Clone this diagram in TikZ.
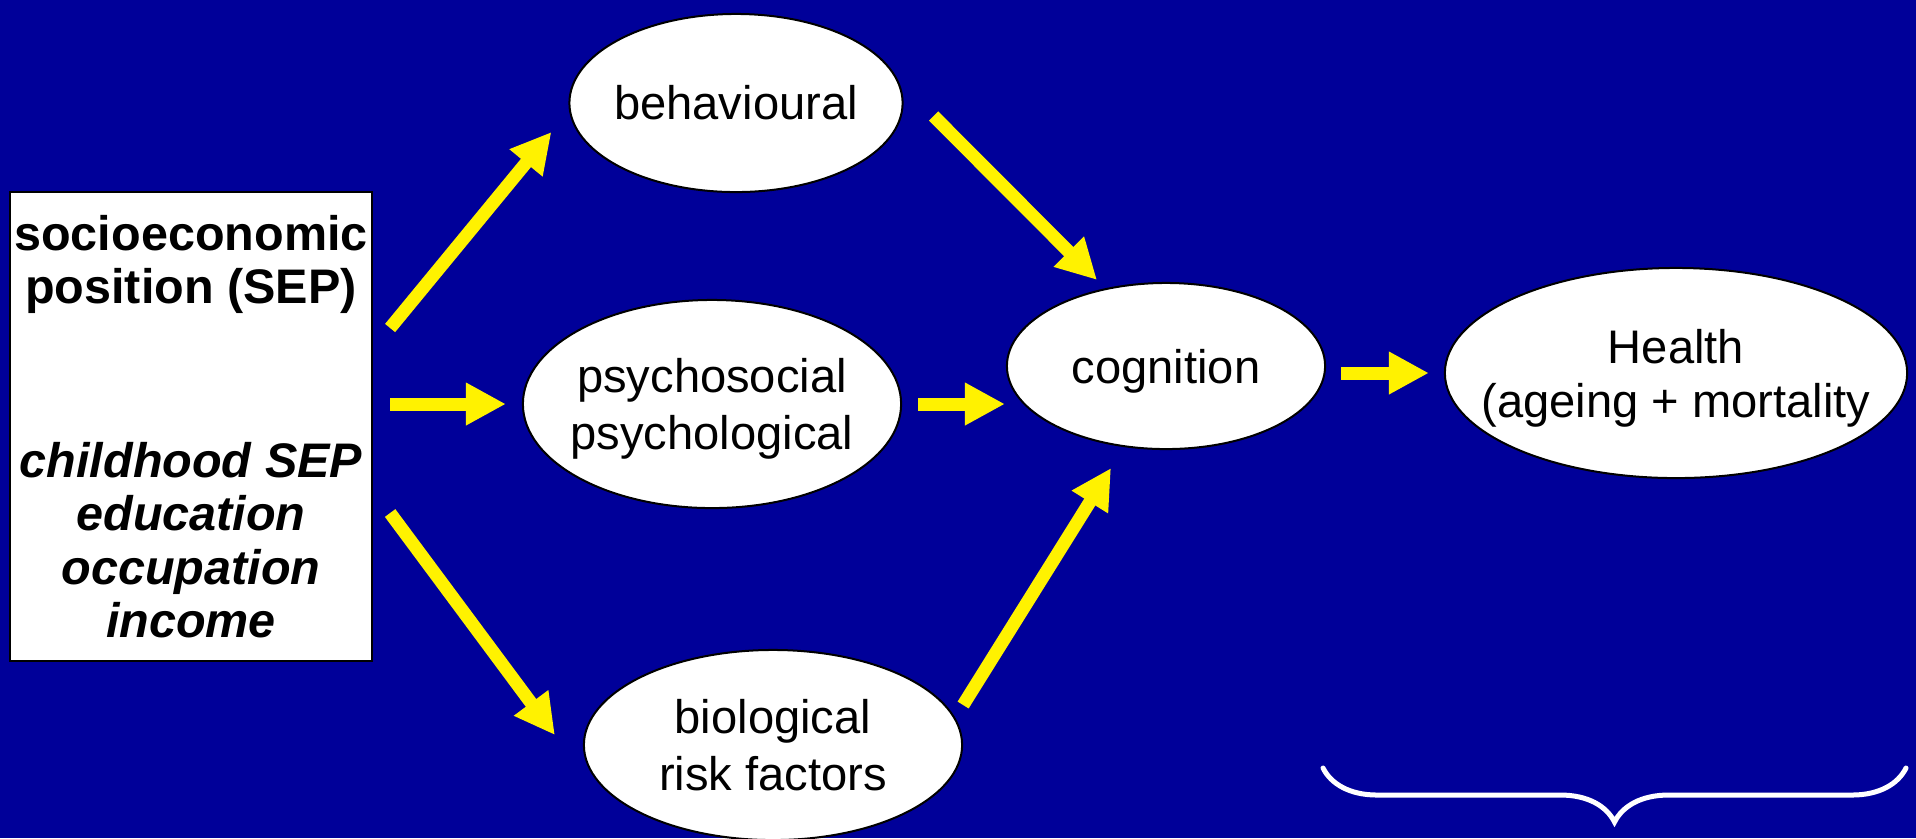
\documentclass[tikz,border=0pt]{standalone}
\usepackage{fontspec}
\setmainfont{Liberation Sans}
\usetikzlibrary{shapes.geometric,arrows.meta,decorations.pathreplacing}
\definecolor{slideblue}{RGB}{0,0,153}
\begin{document}
\begin{tikzpicture}[x=0.01cm,y=-0.01cm,
  every node/.style={font=\fontsize{13.4pt}{16.2pt}\selectfont},
  ell/.style={ellipse,draw=black,line width=0.02cm,fill=white,inner sep=0pt},
  txt/.style={align=center,inner sep=0pt},
  arr/.style={yellow,line width=0.13cm,-{Triangle[width=0.4cm,length=0.4cm]}}]
\useasboundingbox (0,0) rectangle (1916,838);
\fill[slideblue] (0,0) rectangle (1916,838);
\node[draw=black,line width=0.02cm,fill=white,inner sep=0pt,minimum width=3.62cm,minimum height=4.69cm,
  align=center,font=\fontsize{13.8pt}{15.2pt}\selectfont\bfseries] (sep) at (191,426.5)
  {socioeconomic\\position (SEP)\\[1.2cm]\textit{childhood SEP}\\\textit{education}\\\textit{occupation}\\\textit{income}};
\node[ell,minimum width=3.33cm,minimum height=1.78cm] (beh) at (736,103) {};
\node[ell,minimum width=3.78cm,minimum height=2.08cm] (psy) at (712,404) {};
\node[ell,minimum width=3.78cm,minimum height=1.90cm] (bio) at (773,745) {};
\node[ell,minimum width=3.18cm,minimum height=1.66cm] (cog) at (1166,366) {};
\node[ell,minimum width=4.62cm,minimum height=2.10cm] (hea) at (1676,373) {};
\node[txt] (behtxt) at (beh) {behavioural};
\node[txt,yshift=-0.05cm] (psytxt) at (psy) {psychosocial\\psychological};
\node[txt] (biotxt) at (bio) {biological\\risk factors};
\node[txt,yshift=-0.05cm] (cogtxt) at (cog) {cognition};
\node[txt,yshift=-0.05cm,font=\fontsize{13.4pt}{15.4pt}\selectfont] (heatxt) at (hea) {Health\\(ageing + mortality};
\draw[arr] ([shift={(17,-98.5)}]sep.east) -- ([shift={(-17,29)}]beh.west);
\draw[arr] ([shift={(17,-22.5)}]sep.east) -- ([xshift=-0.16cm]psy.west);
\draw[arr] ([shift={(17,86.5)}]sep.east) -- ([shift={(-28,-10)}]bio.west);
\draw[arr] ([shift={(30,13)}]beh.east) -- ([shift={(-69,-2)}]cog.north);
\draw[arr] ([xshift=0.16cm]psy.east) -- ([shift={(-1,38)}]cog.west);
\draw[arr] ([shift={(0,-40)}]bio.east) -- ([shift={(-55,18)}]cog.south);
\draw[arr] ([shift={(15,7)}]cog.east) -- ([xshift=-0.15cm]hea.west);
\draw[white,line width=0.05cm,line cap=round,decorate,decoration={brace,amplitude=0.54cm}] (1906,768) -- (1323,768);
\end{tikzpicture}
\end{document}
